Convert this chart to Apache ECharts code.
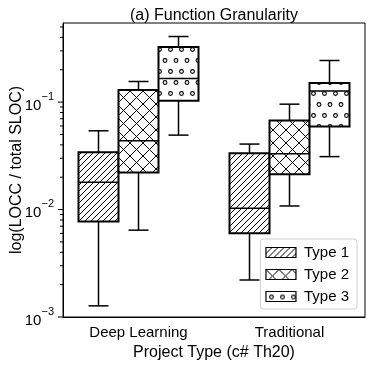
<!DOCTYPE html>
<html>
<head>
<meta charset="utf-8">
<script src="https://cdn.jsdelivr.net/npm/echarts@6/dist/echarts.min.js"></script>
<style>html,body{margin:0;padding:0;background:#fff;}#c{width:373px;height:367px;}</style>
</head>
<body>
<div id="c"></div>
<script>
// ---- data ----
const categories = ['Deep Learning', 'Traditional'];
const seriesNames = ['Type 1', 'Type 2', 'Type 3'];
// each entry: [whiskerLow, Q1, median, Q3, whiskerHigh], one per category
const type1 = [[0.00127, 0.00773, 0.0180, 0.0342, 0.0541], [0.00221, 0.00603, 0.0103, 0.0335, 0.0407]];
const type2 = [[0.00643, 0.0221, 0.0438, 0.1294, 0.1556], [0.0108, 0.0213, 0.0330, 0.0675, 0.0957]];
const type3 = [[0.0493, 0.1028, 0.166, 0.325, 0.408], [0.0311, 0.0593, 0.127, 0.151, 0.244]];
const majorTicks = [0.001, 0.01, 0.1];
const minorTicks = [0.002, 0.003, 0.004, 0.005, 0.006, 0.007, 0.008, 0.009,
                    0.02, 0.03, 0.04, 0.05, 0.06, 0.07, 0.08, 0.09,
                    0.2, 0.3, 0.4, 0.5];
const yMin = 0.001, yMax = 0.545;

// ---- hatch patterns ----
function mk(w, h, draw) {
  const c = document.createElement('canvas');
  c.width = w; c.height = h;
  const g = c.getContext('2d');
  g.fillStyle = '#fff'; g.fillRect(0, 0, w, h);
  g.strokeStyle = '#000'; g.lineWidth = 1;
  draw(g, w, h);
  return c;
}
const patDiag = mk(6, 6, (g, w, h) => {
  g.beginPath();
  g.moveTo(-1, h + 1); g.lineTo(w + 1, -1);
  g.moveTo(-1, 1); g.lineTo(1, -1);
  g.moveTo(w - 1, h + 1); g.lineTo(w + 1, h - 1);
  g.stroke();
});
const patCross = mk(13, 13, (g, w, h) => {
  g.beginPath();
  g.moveTo(0, 0); g.lineTo(w, h);
  g.moveTo(0, h); g.lineTo(w, 0);
  g.stroke();
});
const patCirc = mk(11, 22, (g, w, h) => {
  g.lineWidth = 1.1;
  const pts = [[5.5, 5.5], [0, 16.5], [11, 16.5]];
  pts.forEach(p => { g.beginPath(); g.arc(p[0], p[1], 1.9, 0, Math.PI * 2); g.stroke(); });
});
const patterns = [patDiag, patCross, patCirc].map(c => ({ image: c, repeat: 'repeat' }));

const BOX_FRAC = 40 / 151;

function boxRenderer(k) {
  return function (params, api) {
    const cat = api.value(0);
    const band = api.size([1, 0.1])[0];
    const w = band * BOX_FRAC;
    const cx = api.coord([cat, 0.1])[0] + (k - 1) * w;
    const y = i => api.coord([cat, api.value(i)])[1];
    const wl = y(1), q1 = y(2), md = y(3), q3 = y(4), wh = y(5);
    const cap = w / 4;
    const ls = { stroke: '#000', lineWidth: 1.5 };
    return {
      type: 'group',
      children: [
        { type: 'line', shape: { x1: cx, y1: q3, x2: cx, y2: wh }, style: ls },
        { type: 'line', shape: { x1: cx, y1: q1, x2: cx, y2: wl }, style: ls },
        { type: 'line', shape: { x1: cx - cap, y1: wh, x2: cx + cap, y2: wh }, style: ls },
        { type: 'line', shape: { x1: cx - cap, y1: wl, x2: cx + cap, y2: wl }, style: ls },
        { type: 'rect', shape: { x: cx - w / 2, y: q3, width: w, height: q1 - q3 },
          style: { fill: patterns[k], stroke: '#000', lineWidth: 2 } },
        { type: 'line', shape: { x1: cx - w / 2, y1: md, x2: cx + w / 2, y2: md }, style: ls }
      ]
    };
  };
}

const typeData = [type1, type2, type3];
const boxSeries = typeData.map((arr, k) => ({
  type: 'custom',
  name: seriesNames[k],
  renderItem: boxRenderer(k),
  clip: false,
  encode: { x: 0, y: [1, 2, 3, 4, 5] },
  itemStyle: { color: patterns[k], borderColor: '#000' },
  data: arr.map((v, i) => [i].concat(v)),
  z: 5
}));

const tickData = majorTicks.map(v => [0, v, 5]).concat(minorTicks.map(v => [0, v, 3]));
const tickSeries = {
  type: 'custom',
  name: 'ticks',
  clip: false,
  encode: { x: 0, y: 1 },
  renderItem: function (params, api) {
    const x0 = params.coordSys.x;
    const yy = api.coord([0, api.value(1)])[1];
    return { type: 'line', shape: { x1: x0 - api.value(2), y1: yy, x2: x0, y2: yy },
             style: { stroke: '#000', lineWidth: 1 } };
  },
  data: tickData,
  silent: true,
  z: 3
};

const FONT = 'Liberation Sans, Arial, sans-serif';

const chart = echarts.init(document.getElementById('c'), null, { renderer: 'canvas' });
chart.setOption({
  animation: false,
  backgroundColor: '#fff',
  title: {
    text: '(a) Function Granularity',
    left: 209, textAlign: 'center', top: 3,
    textStyle: { fontFamily: FONT, fontSize: 16, fontWeight: 'normal', color: '#000' }
  },
  grid: { left: 63, right: 8, top: 23, bottom: 50, containLabel: false, outerBoundsMode: 'none',
          show: true, borderColor: '#000', borderWidth: 1, backgroundColor: 'transparent' },
  legend: {
    orient: 'vertical',
    right: 16, top: 239,
    itemWidth: 30, itemHeight: 10, itemGap: 7,
    icon: 'rect',
    backgroundColor: '#fff',
    borderColor: '#d0d0d0', borderWidth: 1, borderRadius: 3,
    padding: [6, 8, 5, 5],
    textStyle: { fontFamily: FONT, fontSize: 15, color: '#000', padding: [0, 0, 0, 3] },
    data: seriesNames.map((n, k) => ({ name: n, itemStyle: { color: patterns[k], borderColor: '#000', borderWidth: 1.2 } }))
  },
  xAxis: {
    type: 'category',
    data: categories,
    boundaryGap: true,
    name: 'Project Type (c# Th20)',
    nameLocation: 'middle',
    nameGap: 26,
    nameTextStyle: { fontFamily: FONT, fontSize: 16, color: '#000' },
    axisLine: { lineStyle: { color: '#000', width: 1 } },
    axisTick: { alignWithLabel: true, length: 4, lineStyle: { color: '#000' } },
    axisLabel: { fontFamily: FONT, fontSize: 15, color: '#000', margin: 8 },
    splitLine: { show: false }
  },
  yAxis: {
    type: 'log',
    logBase: 10,
    min: yMin, max: yMax,
    name: 'log(LOCC / total SLOC)',
    nameLocation: 'middle',
    nameGap: 38,
    nameMoveOverlap: false,
    nameTextStyle: { fontFamily: FONT, fontSize: 16, color: '#000' },
    axisLine: { show: true, lineStyle: { color: '#000', width: 1 } },
    axisTick: { show: false },
    splitLine: { show: false },
    axisLabel: {
      margin: 9,
      color: '#000',
      showMaxLabel: false,
      formatter: function (v) {
        const e = Math.log10(v);
        const r = Math.round(e);
        if (Math.abs(e - r) > 1e-6) return '';
        return '{b|10}{s|\u2212' + (-r) + '}';
      },
      rich: {
        b: { fontFamily: FONT, fontSize: 15, color: '#000', lineHeight: 22, verticalAlign: 'bottom' },
        s: { fontFamily: FONT, fontSize: 11, color: '#000', lineHeight: 11, verticalAlign: 'top' }
      }
    }
  },
  series: [tickSeries].concat(boxSeries)
});
</script>
</body>
</html>
